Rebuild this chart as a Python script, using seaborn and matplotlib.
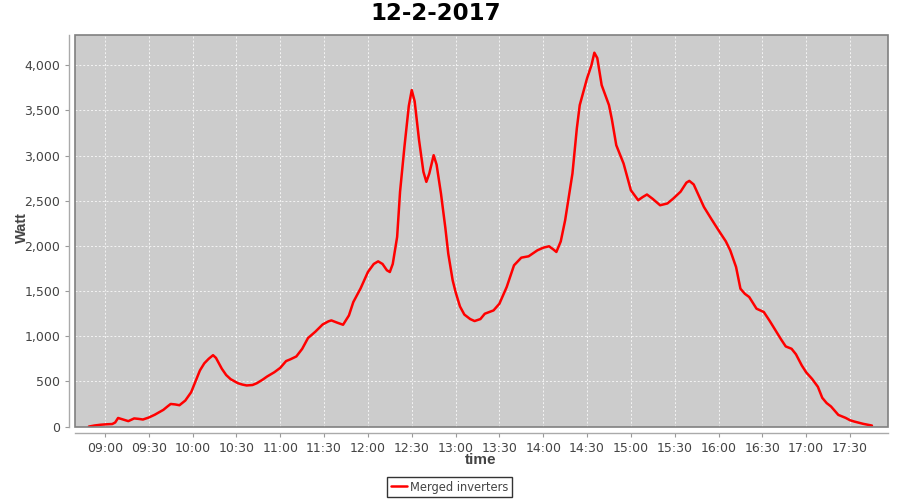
import numpy as np
import pandas as pd
import seaborn as sns
import matplotlib.dates as mdates
from matplotlib import pyplot as plt
from matplotlib.patches import Rectangle
from matplotlib.ticker import FuncFormatter

# minutes since midnight
minutes = [
    529, 533, 537, 541, 545, 547, 549, 552, 556, 560, 563, 566, 570, 574, 577,
    580, 583, 585, 588, 591, 595, 599, 602, 605, 608, 611, 614, 616, 620, 623,
    626, 631, 634, 637, 641, 644, 648, 651, 656, 660, 664, 667, 671, 675, 679,
    684, 689, 693, 695, 699, 703, 707, 710, 715, 720, 724, 727, 730, 733, 735,
    737, 740, 742, 745, 748, 750, 752, 755, 758, 760, 762, 765, 767, 770, 773,
    775, 778, 780, 783, 786, 790, 793, 797, 800, 806, 810, 815, 820, 825, 830,
    836, 840, 844, 847, 849, 852, 855, 860, 863, 865, 870, 873, 875, 877, 880,
    885, 887, 890, 895, 900, 905, 908, 911, 915, 920, 925, 929, 934, 938, 940,
    943, 950, 955, 960, 965, 968, 972, 975, 978, 981, 986, 991, 995, 999, 1003,
    1006, 1010, 1013, 1017, 1020, 1024, 1028, 1031, 1034, 1037, 1042, 1047,
    1050, 1053, 1059, 1065,
]
watt = [
    0, 12, 20, 25, 28, 45, 95, 80, 60, 90, 85, 78, 100, 130, 158,
    185, 225, 250, 245, 236, 288, 380, 500, 621, 700, 750, 790, 760, 640, 570,
    525, 480, 465, 455, 460, 480, 520, 554, 602, 650, 725, 745, 776, 860, 980,
    1050, 1130, 1165, 1175, 1150, 1127, 1230, 1378, 1530, 1711, 1800, 1829, 1800, 1730, 1711,
    1800, 2099, 2600, 3097, 3550, 3725, 3600, 3171, 2820, 2709, 2800, 3004, 2900, 2580, 2200,
    1914, 1620, 1490, 1330, 1240, 1190, 1168, 1190, 1249, 1286, 1360, 1545, 1785, 1870, 1885,
    1951, 1980, 1996, 1960, 1933, 2050, 2284, 2801, 3300, 3559, 3855, 4000, 4139, 4080, 3780,
    3559, 3400, 3115, 2912, 2616, 2506, 2540, 2569, 2520, 2450, 2470, 2524, 2600, 2700, 2720,
    2680, 2431, 2300, 2173, 2050, 1951, 1766, 1526, 1470, 1434, 1305, 1268, 1170, 1064, 960,
    887, 861, 800, 676, 600, 528, 440, 318, 260, 222, 129, 96,
    70, 55, 30, 11,
]
day = "2017-02-12"
title = "12-2-2017"
series_name = "Merged inverters"

df = pd.DataFrame({
    "time": pd.Timestamp(day) + pd.to_timedelta(minutes, unit="min"),
    "Watt": watt,
    "series": series_name,
})

sns.set_style("white")
plt.rcParams["font.family"] = ["DejaVu Sans"]
txt = "#444444"

fig = plt.figure(figsize=(9, 5), dpi=100)
ax = fig.add_axes([75 / 900, 1 - 427 / 500, 813 / 900, 392 / 500])
ax.set_facecolor("#cccccc")

sns.lineplot(data=df, x="time", y="Watt", hue="series", palette=["#ff0000"],
             linewidth=1.8, ax=ax, legend=True)

ax.set_xlim(pd.Timestamp(day + " 08:39:30"), pd.Timestamp(day + " 17:56:00"))
ax.set_ylim(-5, 4335)
ax.set_yticks(np.arange(0, 4001, 500))
ax.yaxis.set_major_formatter(FuncFormatter(lambda v, p: f"{int(v):,}"))
ax.xaxis.set_major_locator(mdates.MinuteLocator(byminute=[0, 30]))
ax.xaxis.set_major_formatter(mdates.DateFormatter("%H:%M"))

ax.grid(True, color="#f4f4f4", linestyle=(0, (2, 2)), linewidth=0.7)
ax.set_axisbelow(True)

for s in ["top", "right"]:
    ax.spines[s].set_visible(False)
for s in ["left", "bottom"]:
    ax.spines[s].set_position(("outward", 4))
    ax.spines[s].set_color("#aaaaaa")
    ax.spines[s].set_linewidth(1)
ax.add_patch(Rectangle((0, 0), 1, 1, transform=ax.transAxes, fill=False,
                       edgecolor="#808080", linewidth=1.2, clip_on=False, zorder=5))

ax.tick_params(axis="both", colors="#999999", labelcolor=txt, labelsize=9,
               length=3, width=0.8, direction="out", left=True, bottom=True)

ax.set_xlabel("time", fontsize=11, fontweight="bold", color=txt,
              family="Liberation Sans")
ax.set_ylabel("Watt", fontsize=10.5, fontweight="bold", color=txt,
              family="Liberation Sans")
ax.xaxis.set_label_coords((481 - 75) / 813, -(460 - 427) / 392)
ax.yaxis.set_label_coords((22 - 75) / 813, (427 - 228) / 392)
ax.xaxis.label.set_va("center")
ax.yaxis.label.set_va("center")

fig.text(436 / 900, 1 - 14 / 500, title, ha="center", va="center",
         fontsize=16.5, fontweight="bold", color="black")

handles, labels = ax.get_legend_handles_labels()
ax.get_legend().remove()
leg = fig.legend(handles, labels, loc="center", bbox_to_anchor=(449.5 / 900, 1 - 487 / 500),
                 frameon=True, fancybox=False, fontsize=8.3, handlelength=1.4,
                 handletextpad=0.25, borderpad=0.3, borderaxespad=0)
leg.get_frame().set_edgecolor("black")
leg.get_frame().set_linewidth(1)
for t in leg.get_texts():
    t.set_color(txt)

fig.savefig("out.png", dpi=100)
